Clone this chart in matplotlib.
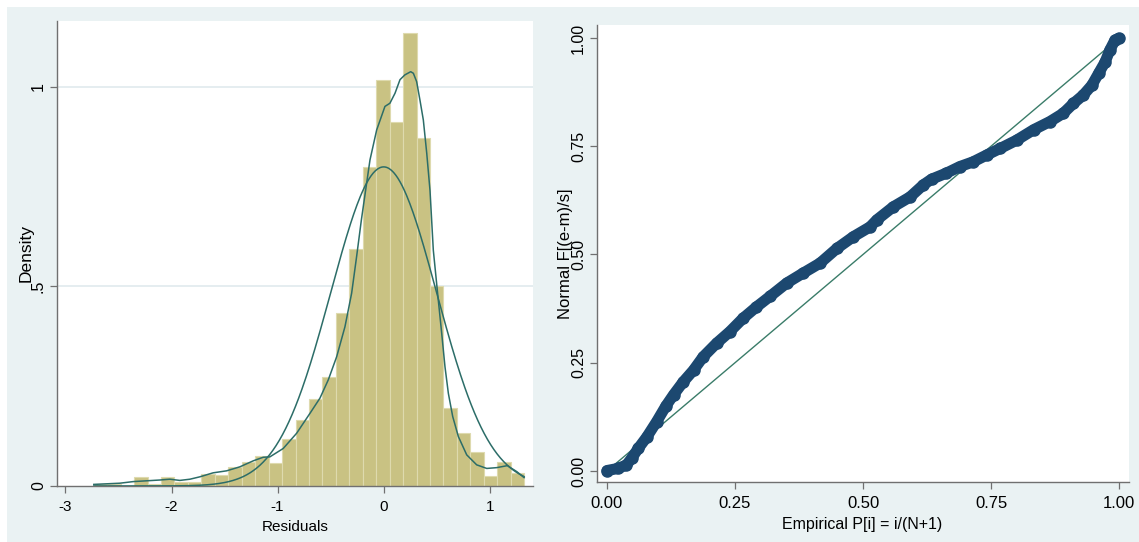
import numpy as np
import matplotlib
matplotlib.use("Agg")
import matplotlib.pyplot as plt
from matplotlib.patches import Rectangle

# ---- residual histogram (32 equal bins between the smallest and largest residual)
bin_start = -2.733
bin_end = 1.324
bin_density = [0.005, 0.005, 0.000, 0.022, 0.005, 0.022, 0.010, 0.010,
               0.030, 0.027, 0.048, 0.061, 0.076, 0.057, 0.117, 0.165,
               0.219, 0.272, 0.433, 0.594, 0.800, 1.016, 0.911, 1.134,
               0.871, 0.501, 0.195, 0.132, 0.084, 0.026, 0.061, 0.032]

# ---- kernel density estimate of the residuals
kd_x = [-2.733, -2.488, -2.362, -2.236, -2.110, -2.016, -1.922, -1.827, -1.733,
        -1.608, -1.481, -1.356, -1.230, -1.136, -1.073, -0.947, -0.821, -0.695,
        -0.601, -0.522, -0.443, -0.365, -0.302, -0.255, -0.210, -0.129, -0.066,
        0.012, 0.059, 0.107, 0.154, 0.200, 0.255, 0.280, 0.311, 0.342, 0.374,
        0.406, 0.437, 0.468, 0.515, 0.547, 0.578, 0.610, 0.651, 0.704, 0.783,
        0.877, 0.972, 1.066, 1.166, 1.255, 1.324]
kd_y = [0.004, 0.007, 0.011, 0.013, 0.015, 0.017, 0.014, 0.017, 0.023,
        0.033, 0.038, 0.048, 0.063, 0.072, 0.073, 0.094, 0.132, 0.182,
        0.220, 0.266, 0.324, 0.399, 0.483, 0.575, 0.667, 0.817, 0.892,
        0.951, 0.959, 0.984, 1.018, 1.030, 1.038, 1.034, 1.013, 0.967, 0.917,
        0.834, 0.740, 0.591, 0.466, 0.383, 0.299, 0.232, 0.174, 0.124, 0.078,
        0.053, 0.044, 0.046, 0.051, 0.036, 0.021]

# ---- fitted normal density (mean, standard deviation of the residuals)
norm_mean = 0.0
norm_sd = 0.499

# ---- standardized normal probability plot: empirical vs. normal probabilities
pp_x = [0.000, 0.022, 0.038, 0.048, 0.061, 0.078, 0.097, 0.115, 0.130, 0.149,
        0.169, 0.188, 0.214, 0.240, 0.266, 0.292, 0.318, 0.351, 0.383, 0.416,
        0.449, 0.481, 0.514, 0.527, 0.559, 0.592, 0.618, 0.634, 0.663, 0.689,
        0.715, 0.742, 0.768, 0.800, 0.833, 0.865, 0.891, 0.911, 0.930, 0.947,
        0.960, 0.973, 0.982, 0.992, 0.999]
pp_y = [0.001, 0.006, 0.014, 0.029, 0.052, 0.079, 0.114, 0.150, 0.176, 0.206,
        0.233, 0.264, 0.295, 0.322, 0.353, 0.379, 0.403, 0.434, 0.457, 0.480,
        0.514, 0.541, 0.564, 0.580, 0.610, 0.633, 0.661, 0.674, 0.688, 0.703,
        0.714, 0.730, 0.745, 0.764, 0.788, 0.807, 0.826, 0.849, 0.868, 0.891,
        0.918, 0.945, 0.972, 0.995, 0.999]

# ---- tick labels
left_xticks = [-3, -2, -1, 0, 1]
left_xticklabels = ["-3", "-2", "-1", "0", "1"]
left_yticks = [0, 0.5, 1]
left_yticklabels = ["0", ".5", "1"]
right_ticks = [0, 0.25, 0.5, 0.75, 1]
right_ticklabels = ["0.00", "0.25", "0.50", "0.75", "1.00"]

# ---- styling
BG = "#eaf2f3"
BAR = "#c9c283"
BAR_EDGE = "#dedaae"
CURVE = "#2c6d68"
REFLINE = "#3a7c69"
NAVY = "#1c4870"
AXIS = "#707070"
FONT = ["Liberation Sans", "DejaVu Sans"]

W, H = 1139, 542
fig = plt.figure(figsize=(W / 100, H / 100), dpi=100, facecolor="white")
fig.add_artist(Rectangle((7 / W, 0), 1 - 7 / W, (H - 7) / H,
                         transform=fig.transFigure, facecolor=BG,
                         edgecolor="none", zorder=-10))


def style_axes(ax):
    ax.set_facecolor("white")
    for side in ("top", "right"):
        ax.spines[side].set_visible(False)
    for side in ("left", "bottom"):
        ax.spines[side].set_color(AXIS)
        ax.spines[side].set_linewidth(1.0)
    ax.tick_params(direction="out", length=5, width=0.9, color=AXIS)


# ================= left: histogram with kernel density and normal curve
axL = fig.add_axes([57 / W, (H - 486) / H, 476 / W, 465 / H])
style_axes(axL)
axL.set_axisbelow(True)

edges = np.linspace(bin_start, bin_end, len(bin_density) + 1)
axL.bar(edges[:-1], bin_density, width=np.diff(edges), align="edge",
        color=BAR, edgecolor=BAR_EDGE, linewidth=0.8, zorder=2)

for g in (0.5, 1.0):
    axL.axhline(g, color="#e3ecef", linewidth=1.3, zorder=1)

axL.plot(kd_x, kd_y, color=CURVE, linewidth=1.1, zorder=3)
xs = np.linspace(bin_start, bin_end, 400)
norm_y = np.exp(-0.5 * ((xs - norm_mean) / norm_sd) ** 2) / (norm_sd * np.sqrt(2 * np.pi))
axL.plot(xs, norm_y, color=CURVE, linewidth=1.1, zorder=3)

axL.set_xlim(-3.08, 1.408)
axL.set_ylim(0, 1.165)
axL.set_xticks(left_xticks)
axL.set_xticklabels(left_xticklabels, family=FONT, fontsize=11)
axL.set_yticks(left_yticks)
axL.set_yticklabels(left_yticklabels, family=FONT, fontsize=11.5,
                    rotation=90, va="center")
axL.tick_params(axis="x", pad=5)
axL.tick_params(axis="y", pad=3)
axL.set_xlabel("Residuals", family=FONT, fontsize=11)
axL.xaxis.set_label_coords((295 - 57) / 476, -(527 - 486) / 465)
axL.xaxis.label.set_va("center")
axL.set_ylabel("Density", family=FONT, fontsize=12.5)
axL.yaxis.set_label_coords((26 - 57) / 476, (486 - 253) / 465)
axL.yaxis.label.set_va("center")

# ================= right: normal probability plot
axR = fig.add_axes([597 / W, (H - 482) / H, 532 / W, 457 / H])
style_axes(axR)

axR.plot([0, 1], [0, 1], color=REFLINE, linewidth=1.0, zorder=2)
axR.plot(pp_x, pp_y, color=NAVY, linewidth=8.0, solid_capstyle="round",
         solid_joinstyle="round", zorder=3)
axR.plot(pp_x, pp_y, linestyle="none", marker="o", markersize=8.0,
         markerfacecolor=NAVY, markeredgecolor=NAVY, zorder=4)

axR.set_xlim(-0.0195, 1.0195)
axR.set_ylim(-0.0254, 1.030)
axR.set_xticks(right_ticks)
axR.set_xticklabels(right_ticklabels, family=FONT, fontsize=12)
axR.set_yticks(right_ticks)
axR.set_yticklabels(right_ticklabels, family=FONT, fontsize=11.5,
                    rotation=90, va="center")
axR.tick_params(axis="x", pad=5)
axR.tick_params(axis="y", pad=3)
axR.set_xlabel("Empirical P[i] = i/(N+1)", family=FONT, fontsize=11.5)
axR.xaxis.set_label_coords((862 - 597) / 532, -(524 - 482) / 457)
axR.xaxis.label.set_va("center")
axR.set_ylabel("Normal F[(e-m)/s]", family=FONT, fontsize=12)
axR.yaxis.set_label_coords((565 - 597) / 532, (482 - 254) / 457)
axR.yaxis.label.set_va("center")

fig.savefig("out.png", dpi=100, facecolor="white")
